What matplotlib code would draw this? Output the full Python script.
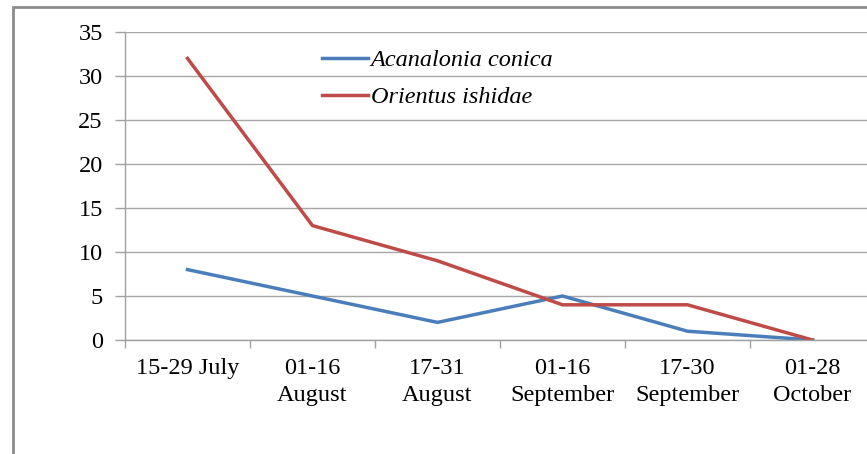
import matplotlib
matplotlib.use("Agg")
import matplotlib.pyplot as plt
from matplotlib.patches import Rectangle

categories = ["15-29 July", "01-16\nAugust", "17-31\nAugust", "01-16\nSeptember", "17-30\nSeptember", "01-28\nOctober"]
acanalonia = [8, 5, 2, 5, 1, 0]
orientus = [32, 13, 9, 4, 4, 0]
yticks = [0, 5, 10, 15, 20, 25, 30, 35]

plt.rcParams['font.family'] = ['Liberation Serif', 'DejaVu Serif']

W, H = 867, 454
fig = plt.figure(figsize=(W / 100, H / 100), dpi=100)
ax = fig.add_axes([125 / W, 1 - 340 / H, 750 / W, 308 / H])

x = list(range(len(categories)))
ax.plot(x, acanalonia, color="#4A7EBB", lw=2.5, label="Acanalonia conica", solid_joinstyle="round")
ax.plot(x, orientus, color="#BE4B48", lw=2.5, label="Orientus ishidae", solid_joinstyle="round")

ax.set_xlim(-0.5, 5.5)
ax.set_ylim(0, 35)
ax.set_yticks(yticks)
ax.set_yticklabels([str(v) for v in yticks], fontsize=17.5)
ax.yaxis.grid(True, color="#a6a6a6", lw=1)
ax.set_axisbelow(True)

ax.set_xticks(x)
ax.set_xticklabels(categories, fontsize=17.5, linespacing=1.4)
ax.set_xticks([i - 0.5 for i in range(len(categories) + 1)], minor=True)
ax.tick_params(axis="x", which="major", length=0, pad=13)
ax.tick_params(axis="x", which="minor", length=6, color="#a0a0a0", width=1)
ax.tick_params(axis="y", length=7, color="#a0a0a0", width=1, pad=9)

for s in ["top", "right"]:
    ax.spines[s].set_visible(False)
for s in ["left", "bottom"]:
    ax.spines[s].set_color("#a0a0a0")
    ax.spines[s].set_linewidth(1)

leg = ax.legend(loc="upper left", bbox_to_anchor=(187 / 750, 0.975), frameon=False,
                prop={"style": "italic", "size": 17.5}, handlelength=1.9,
                handletextpad=0.12, labelspacing=0.6, borderaxespad=0)

fig.patches.append(Rectangle((12.5 / W, -0.05), 1.1, 1 - 7.5 / H + 0.05, transform=fig.transFigure,
                             fill=False, edgecolor="#8c8c8c", lw=2, zorder=0))

fig.savefig("out.png", dpi=100)
